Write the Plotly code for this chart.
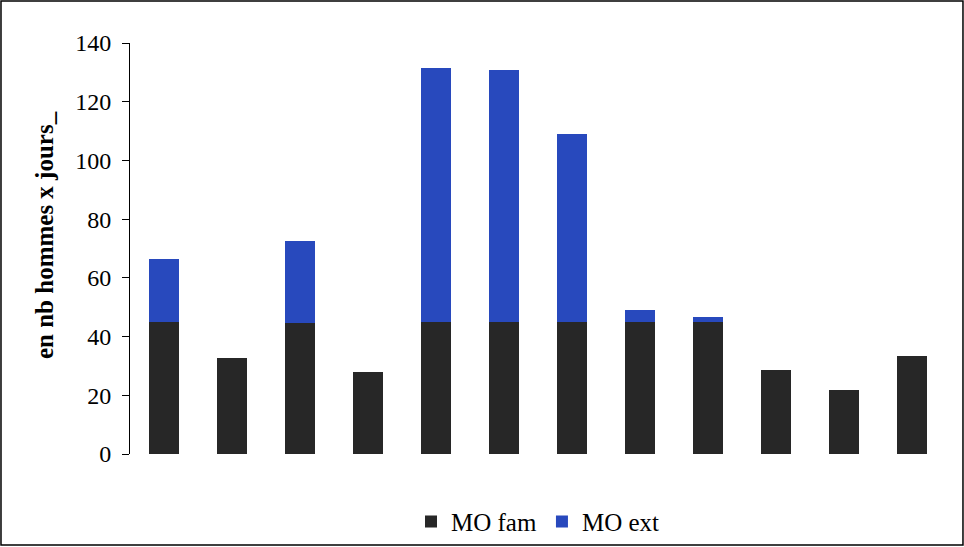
import plotly.graph_objects as go

categories = ["1", "2", "3", "4", "5", "6", "7", "8", "9", "10", "11", "12"]
mo_fam = [45.0, 32.7, 44.6, 27.9, 45.0, 45.0, 45.0, 45.0, 45.0, 28.6, 21.8, 33.4]
mo_ext = [21.4, 0, 27.9, 0, 86.5, 85.8, 64.0, 4.0, 1.8, 0, 0, 0]
y_ticks = [0, 20, 40, 60, 80, 100, 120, 140]
y_title = "en nb hommes x jours_"

fig = go.Figure()
fig.add_trace(go.Bar(x=categories, y=mo_fam, name="MO fam",
                     marker=dict(color="#272727", line=dict(width=0))))
fig.add_trace(go.Bar(x=categories, y=mo_ext, name="MO ext",
                     marker=dict(color="#2849bd", line=dict(width=0))))

ff = "Liberation Serif"
fig.update_layout(
    barmode="stack",
    bargap=0.57,
    width=964, height=547,
    margin=dict(l=130, r=18, t=43, b=93, autoexpand=False),
    paper_bgcolor="white", plot_bgcolor="white",
    font=dict(family=ff, color="black", size=23),
    showlegend=True,
    legend=dict(orientation="h", x=0.5, xanchor="center", yref="container",
                y=0.046, yanchor="middle", bgcolor="rgba(0,0,0,0)",
                font=dict(size=25, family=ff, color="black"),
                traceorder="normal", itemwidth=30),
    xaxis=dict(showticklabels=False, showline=False, ticks="", showgrid=False,
               zeroline=False, range=[-0.5, 11.5], automargin=False),
    yaxis=dict(range=[0, 140], tickvals=y_ticks, showgrid=False, zeroline=False,
               showline=True, linecolor="black", linewidth=1, ticks="outside",
               ticklen=7, tickcolor="black", automargin=False,
               ticklabelstandoff=6,
               tickfont=dict(size=24, family=ff, color="black")),
    annotations=[dict(text="<b>" + y_title + "</b>", textangle=-90, showarrow=False,
                      xref="paper", yref="paper", x=-0.104, y=0.533,
                      xanchor="center", yanchor="middle",
                      font=dict(size=25, family=ff, color="black"))],
    shapes=[dict(type="rect", xref="paper", yref="paper",
                 x0=-0.1581, x1=1.0208, y0=-0.2214, y1=1.1022,
                 line=dict(color="black", width=1.5), fillcolor="rgba(0,0,0,0)", layer="below")],
)

fig.write_html("out.html", config={"displayModeBar": False},
               post_script="document.body.style.margin='0';document.body.style.overflow='hidden';")
